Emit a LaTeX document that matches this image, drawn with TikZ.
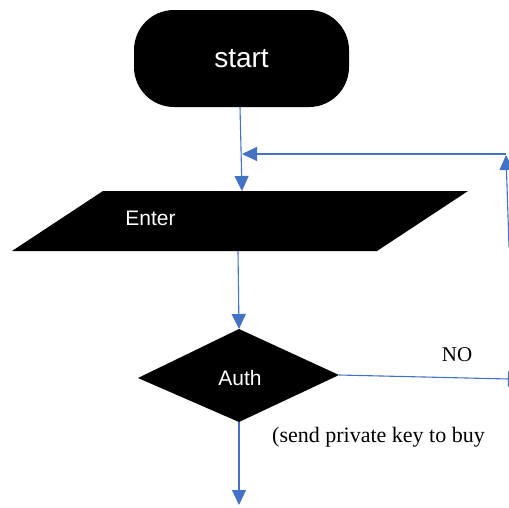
\documentclass[tikz,border=0pt]{standalone}
\usepackage{fontspec}
\setmainfont{Liberation Serif}
\setsansfont{Liberation Sans}
\usetikzlibrary{arrows.meta}
\definecolor{lblue}{HTML}{4472C4}
\begin{document}
\begin{tikzpicture}[x=1pt,y=-1pt,
  conn/.style={draw=lblue,line width=1.1pt},
  arr/.style={conn,-{Triangle[length=15pt,width=14pt]}},
  shapefill/.style={fill=black},
  shapetext/.style={text=white,font=\sffamily\fontsize{21}{24}\selectfont},
  lbl/.style={font=\rmfamily\fontsize{21}{24}\selectfont}]
\useasboundingbox (0,0) rectangle (509,507);
% start
\node[fill=black,rounded corners=40pt,minimum width=215pt,minimum height=97pt,inner sep=0pt,
  text=white,font=\sffamily\fontsize{28}{32}\selectfont] (start) at (241.5,58.5) {start};
% Enter parallelogram
\coordinate (e1) at (103,191);
\coordinate (e2) at (468,191);
\coordinate (e3) at (377,251);
\coordinate (e4) at (12,251);
\fill[shapefill] (e1) -- (e2) -- (e3) -- (e4) -- cycle;
\node[shapetext] (enter) at (150.5,218) {Enter};
\coordinate (entertop) at (242,191);
\coordinate (enterbot) at (238,251);
% Auth diamond
\coordinate (dt) at (239,329);
\coordinate (dr) at (339,375);
\coordinate (db) at (239,422);
\coordinate (dl) at (138,378);
\fill[shapefill] (dt) -- (dr) -- (db) -- (dl) -- cycle;
\node[shapetext] (auth) at (240,378) {Auth};
% loop coordinates
\coordinate (startbot) at (240,107);
\coordinate (noend) at (509,379);
\coordinate (upstart) at (509,247);
\coordinate (corner) at (506,155);
\coordinate (hstart) at (506,154);
\coordinate (join) at (242,154);
\coordinate (bottomend) at (239,505);
% connectors
\draw[arr] (startbot) -- (entertop);
\draw[arr] (upstart) -- (corner);
\draw[arr] (hstart) -- (join);
\draw[arr] (enterbot) -- (dt);
\draw[conn,-{Bar[width=15pt]}] (dr) -- (noend);
\draw[arr] (db) -- (bottomend);
% labels
\node[lbl] (no) at (457,355) {NO};
\node[lbl,font=\rmfamily\fontsize{22}{25}\selectfont] (send) at (378.5,437) {(send private key to buy};
\end{tikzpicture}
\end{document}
